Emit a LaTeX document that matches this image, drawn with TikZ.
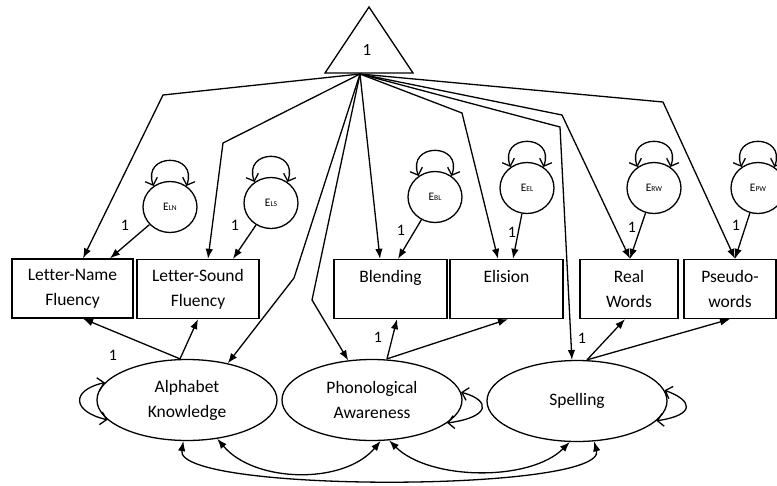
\documentclass[tikz,border=0pt]{standalone}
\usepackage{fontspec}
\setmainfont[Ligatures=NoCommon]{Carlito}
\usetikzlibrary{arrows.meta,shapes.geometric}
\newcommand\errlab[1]{{\fontsize{11.5}{12}\selectfont E\raisebox{-0.6pt}{\fontsize{7.5}{8}\selectfont #1}}}
\begin{document}
\begin{tikzpicture}[x=1pt,y=1pt, line width=1.3pt,
 box/.style={draw, rectangle, minimum height=59pt, inner sep=0pt, align=center, font=\fontsize{17.5}{25}\selectfont},
 lat/.style={draw, ellipse, minimum width=180pt, minimum height=81pt, inner sep=0pt, align=center, font=\fontsize{17.5}{25}\selectfont},
 err/.style={draw, ellipse, minimum width=54pt, minimum height=51pt, inner sep=0pt},
 one/.style={font=\fontsize{16}{16}\selectfont, inner sep=0pt},
 load/.style={-{Latex[length=10pt,width=7.5pt]}},
 cov/.style={{Latex[length=10pt,width=7.5pt]}-{Latex[length=10pt,width=7.5pt]}},
 var/.style={{Straight Barb[length=6pt,width=13pt]}-{Straight Barb[length=6pt,width=13pt]}},
]
\useasboundingbox (0,0) rectangle (777,-485);
\fill[white] (0,0) rectangle (777,-485);

% mean triangle
\draw (325,-73) -- (369,-7) -- (413,-73) -- cycle;
\node[font=\fontsize{17}{17}\selectfont, inner sep=0pt] (t1) at (367,-50) {1};
\coordinate (apex) at (360,-74);

% observed boxes
\node[box, minimum width=121pt] (lnf) at (72.5,-288.5) {Letter-Name\\Fluency};
\node[box, minimum width=122pt] (lsf) at (198,-289) {Letter-Sound\\Fluency};
\node[box, minimum width=113pt] (bl) at (390.5,-289) {Blending\\~};
\node[box, minimum width=113pt] (el) at (506.5,-289) {Elision\\~};
\node[box, minimum width=98pt] (rw) at (629,-289) {Real\\Words};
\node[box, minimum width=92pt] (pw) at (730,-289) {Pseudo-\\words};

% latents
\node[lat] (ak) at (187,-400) {Alphabet\\Knowledge};
\node[lat] (pa) at (372,-400) {Phonological\\Awareness};
\node[lat] (sp) at (577,-401) {Spelling};

% errors
\node[err] (eln) at (170,-207) {\errlab{LN}};
\node[err] (els) at (271,-203) {\errlab{LS}};
\node[err] (ebl) at (435,-197) {\errlab{BL}};
\node[err] (eel) at (527,-188) {\errlab{EL}};
\node[err] (erw) at (654,-188) {\errlab{RW}};
\node[err] (epw) at (758,-188) {\errlab{PW}};

% bend points
\coordinate (bLN) at (163,-95);
\coordinate (bLS) at (223,-143);
\coordinate (bAK) at (294,-278);
\coordinate (bPA) at (312,-300);
\coordinate (bEL) at (462,-113);
\coordinate (bSP) at (560,-127);
\coordinate (bRW) at (562,-115);
\coordinate (bPW) at (663,-102);

% mean paths
\draw[load] (apex) -- (bLN) -- ([xshift=10.5pt]lnf.north);
\draw[load] (apex) -- (bLS) -- ([xshift=10pt]lsf.north);
\draw[load] (apex) -- (bAK) -- (ak.42);
\draw[load] (apex) -- (bPA) -- (pa.121);
\draw[load] (apex) -- ([xshift=-10.5pt]bl.north);
\draw[load] (apex) -- (bEL) -- ([xshift=-8.5pt]el.north);
\draw[load] (apex) -- (bSP) -- (sp.97);
\draw[load] (apex) -- (bRW) -- ([xshift=1pt]rw.north);
\draw[load] (apex) -- (bPW) -- ([xshift=5pt]pw.north);

% error paths
\draw[load] (eln) -- ([xshift=37.5pt]lnf.north);
\draw[load] (els) -- ([xshift=35pt]lsf.north);
\draw[load] (ebl) -- ([xshift=7.5pt]bl.north);
\draw[load] (eel) -- ([xshift=6.5pt]el.north);
\draw[load] (erw) -- ([xshift=1pt]rw.north);
\draw[load] (epw) -- ([xshift=5pt]pw.north);

% error variances
\foreach \e in {eln,els,ebl,eel,erw,epw}
  \draw[var] (\e.128) to[out=110,in=70,looseness=2.8] (\e.52);

% factor loadings
\draw[load] ([xshift=-7pt]ak.north) -- ([xshift=10.5pt]lnf.south);
\draw[load] ([xshift=-7pt]ak.north) -- (lsf.south);
\draw[load] ([xshift=15pt]pa.north) -- ([xshift=6.5pt]bl.south);
\draw[load] ([xshift=15pt]pa.north) -- ([xshift=1.5pt]el.south);
\draw[load] ([xshift=10pt]sp.north) -- ([xshift=-4pt]rw.south);
\draw[load] ([xshift=10pt]sp.north) -- (pw.south);

% latent variances
\draw[var] (ak.168) .. controls +(-35,-8) and +(-35,8) .. (ak.194);
\draw[var] (pa.5) .. controls +(30,-8) and +(44,6) .. (pa.-17);
\draw[var] (sp.7) .. controls +(28,-10) and +(40,6) .. (sp.-14);

% covariances
\draw[cov] (ak.-52) to[out=-50,in=-130,looseness=0.9] (pa.-78);
\draw[cov] (pa.-67) to[out=-45,in=-135,looseness=0.8] (sp.-100);
\draw[cov] (ak.-95) to[out=-100,in=-75,looseness=0.33] (sp.-67);

% labels "1"
\node[one] (l1) at (125,-225) {1};
\node[one] (l2) at (235,-225) {1};
\node[one] (l3) at (401,-230) {1};
\node[one] (l4) at (512,-232) {1};
\node[one] (l5) at (632,-227) {1};
\node[one] (l6) at (736,-225) {1};
\node[one] (l7) at (113,-355) {1};
\node[one] (l8) at (378,-337) {1};
\node[one] (l9) at (582,-338) {1};
\end{tikzpicture}
\end{document}
